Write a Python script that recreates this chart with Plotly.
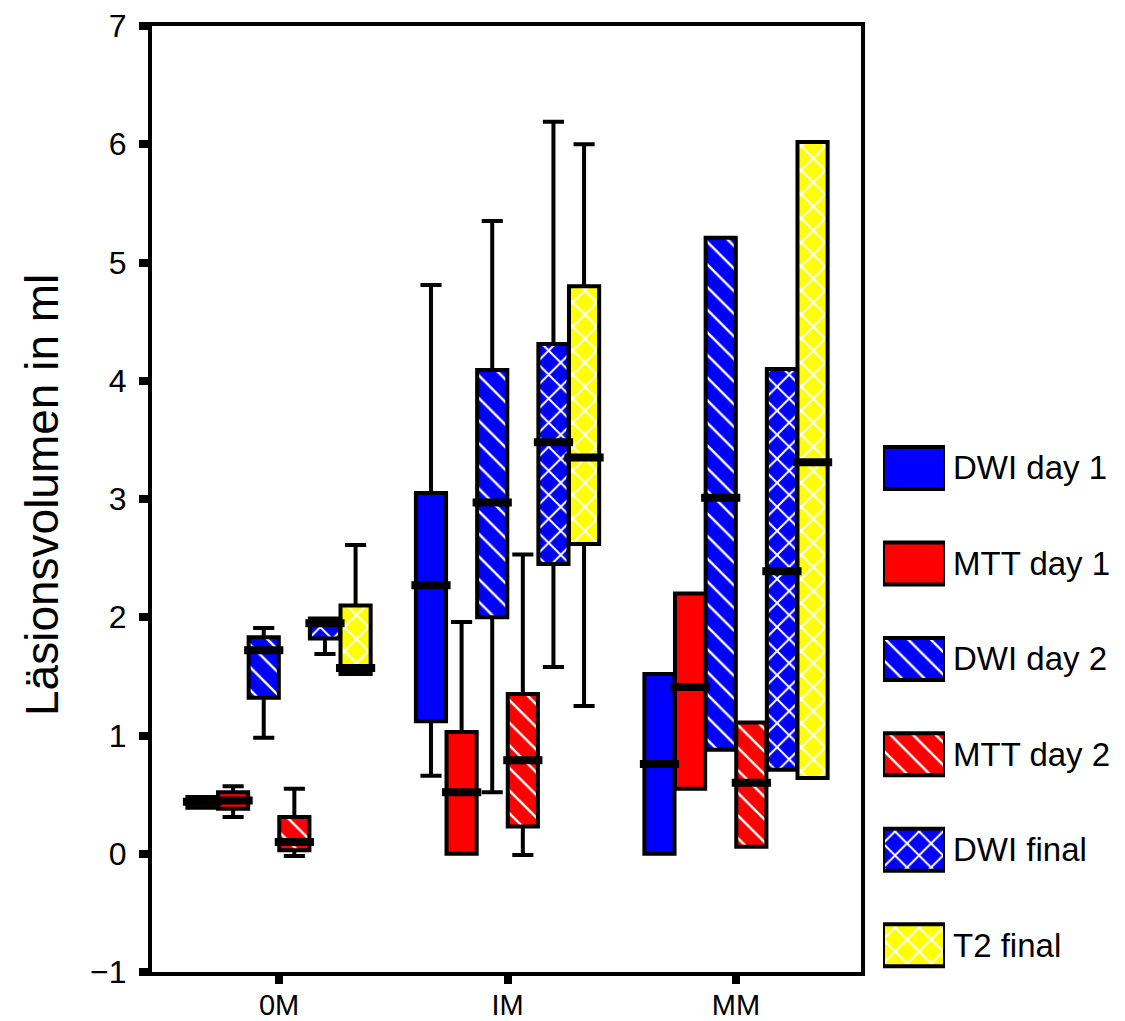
import plotly.graph_objects as go

# ---------------- data ----------------
groups = ["0M", "IM", "MM"]
series = ["DWI day 1", "MTT day 1", "DWI day 2", "MTT day 2", "DWI final", "T2 final"]

# per series: values for groups 0M, IM, MM
lower = {
    "DWI day 1": [0.39, 0.66, 0.00],
    "MTT day 1": [0.31, 0.00, 0.55],
    "DWI day 2": [0.98, 0.52, 0.88],
    "MTT day 2": [-0.02, -0.01, 0.06],
    "DWI final": [1.69, 1.58, 0.71],
    "T2 final": [1.52, 1.25, 0.64],
}
q1 = {
    "DWI day 1": [0.39, 1.12, 0.00],
    "MTT day 1": [0.38, 0.00, 0.55],
    "DWI day 2": [1.32, 2.00, 0.88],
    "MTT day 2": [0.03, 0.23, 0.06],
    "DWI final": [1.82, 2.45, 0.71],
    "T2 final": [1.52, 2.62, 0.64],
}
median = {
    "DWI day 1": [0.44, 2.27, 0.76],
    "MTT day 1": [0.45, 0.52, 1.41],
    "DWI day 2": [1.72, 2.97, 3.01],
    "MTT day 2": [0.10, 0.79, 0.60],
    "DWI final": [1.95, 3.48, 2.39],
    "T2 final": [1.57, 3.35, 3.31],
}
q3 = {
    "DWI day 1": [0.48, 3.05, 1.52],
    "MTT day 1": [0.52, 1.03, 2.20],
    "DWI day 2": [1.83, 4.09, 5.21],
    "MTT day 2": [0.31, 1.35, 1.11],
    "DWI final": [1.99, 4.31, 4.10],
    "T2 final": [2.10, 4.80, 6.02],
}
upper = {
    "DWI day 1": [0.48, 4.81, 1.52],
    "MTT day 1": [0.57, 1.96, 2.20],
    "DWI day 2": [1.91, 5.35, 5.21],
    "MTT day 2": [0.55, 2.53, 1.11],
    "DWI final": [1.99, 6.19, 4.10],
    "T2 final": [2.61, 6.00, 6.02],
}
y_ticks = [-1, 0, 1, 2, 3, 4, 5, 6, 7]

# ---------------- styles ----------------
BLUE, RED, YELLOW = "#0000FF", "#FF0000", "#FFFF00"
styles = {
    "DWI day 1": dict(color=BLUE, shape="", size=10, sol=0.2),
    "MTT day 1": dict(color=RED, shape="", size=10, sol=0.2),
    "DWI day 2": dict(color=BLUE, shape="\\", size=16, sol=0.15),
    "MTT day 2": dict(color=RED, shape="\\", size=16, sol=0.15),
    "DWI final": dict(color=BLUE, shape="x", size=17, sol=0.22),
    "T2 final": dict(color=YELLOW, shape="x", size=17, sol=0.22),
}

def marker_for(s, line_w=0):
    st = styles[s]
    m = dict(color=st["color"], line=dict(color="black", width=line_w))
    if st["shape"]:
        m["pattern"] = dict(shape=st["shape"], fgcolor="white", bgcolor=st["color"],
                            size=st["size"], solidity=st["sol"], fillmode="replace")
    return m

slot = 0.134
bw = 0.132
FONT = "Liberation Sans, Arial, sans-serif"

fig = go.Figure()

for k, s in enumerate(series):
    xs = [g + (k - 2.5) * slot for g in range(len(groups))]
    heights = [b - a for a, b in zip(q1[s], q3[s])]
    fig.add_trace(go.Bar(x=xs, y=heights, base=q1[s], width=bw, marker=marker_for(s),
                         showlegend=False, hoverinfo="skip"))
    fig.add_trace(go.Box(x=xs, q1=q1[s], median=median[s], q3=q3[s],
                         lowerfence=lower[s], upperfence=upper[s], width=bw,
                         whiskerwidth=0.7, fillcolor="rgba(0,0,0,0)",
                         line=dict(color="black", width=4), boxpoints=False,
                         showlegend=False, name=s))
    fig.add_trace(go.Scatter(x=xs, y=median[s], mode="markers",
                             marker=dict(symbol="line-ew", size=28,
                                         line=dict(color="black", width=8)),
                             showlegend=False, hoverinfo="skip"))

W, H = 1125, 1021
ml, mr, mt, mb = 152, 0, 26, 49
pw = W - ml - mr
ph = H - mt - mb

# legend swatches on an auxiliary axis
for k, s in enumerate(series):
    fig.add_trace(go.Bar(y=[k], x=[1], base=0, width=0.44, orientation="h",
                         marker=marker_for(s, line_w=4), xaxis="x2", yaxis="y2",
                         showlegend=False, hoverinfo="skip"))
    fig.add_annotation(text=s, xref="paper", x=(951 - ml) / pw, yref="y2", y=k,
                       xanchor="left", yanchor="middle", showarrow=False,
                       font=dict(family=FONT, size=33, color="black"))

fig.update_layout(
    width=W, height=H,
    margin=dict(l=ml, r=mr, t=mt, b=mb, autoexpand=False),
    paper_bgcolor="white", plot_bgcolor="white",
    barmode="overlay", boxmode="overlay",
    font=dict(family=FONT, size=30, color="black"),
    xaxis=dict(domain=[0, (861 - ml) / pw], range=[-0.556, 2.547], automargin=False,
               tickmode="array", tickvals=list(range(len(groups))), ticktext=groups,
               ticks="outside", ticklen=8, tickwidth=8, tickcolor="black",
               ticklabelstandoff=-4,
               showline=True, linecolor="black", linewidth=4, mirror=True,
               showgrid=False, zeroline=False,
               tickfont=dict(family=FONT, size=29, color="black")),
    yaxis=dict(range=[-1, 7], tickmode="array", tickvals=y_ticks, automargin=False,
               ticks="outside", ticklen=9, tickwidth=8, tickcolor="black",
               ticklabelstandoff=6,
               showline=True, linecolor="black", linewidth=4, mirror=True,
               showgrid=False, zeroline=False,
               tickfont=dict(family=FONT, size=32, color="black")),
    xaxis2=dict(domain=[(883 - ml) / pw, (945 - ml) / pw], range=[0, 1],
                visible=False, anchor="y2", automargin=False),
    yaxis2=dict(domain=[0, 1], range=[5.28, -4.63], visible=False, anchor="x2",
                automargin=False),
)

fig.add_annotation(text="Läsionsvolumen in ml", xref="paper", yref="paper",
                   x=(42 - ml) / pw, y=(972 - 495) / ph,
                   xanchor="center", yanchor="middle", textangle=-90,
                   showarrow=False, font=dict(family=FONT, size=46, color="black"))

fig.write_html("out.html", config={"displayModeBar": False},
               post_script="document.body.style.margin='0px';")
